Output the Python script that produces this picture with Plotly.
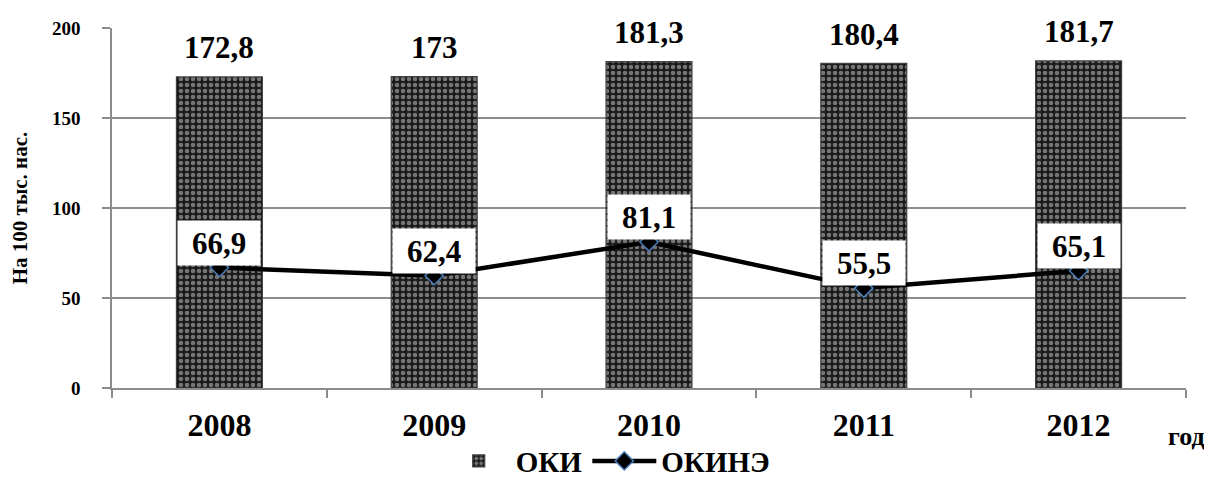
import plotly.graph_objects as go

years = ["2008", "2009", "2010", "2011", "2012"]
oki = [172.8, 173, 181.3, 180.4, 181.7]
okine = [66.9, 62.4, 81.1, 55.5, 65.1]
oki_labels = ["172,8", "173", "181,3", "180,4", "181,7"]
okine_labels = ["66,9", "62,4", "81,1", "55,5", "65,1"]
y_ticks = [0, 50, 100, 150, 200]

FONT = "Liberation Serif"
pos = list(range(len(years)))
bounds = [p - 0.5 for p in pos] + [pos[-1] + 0.5]

fig = go.Figure()
fig.add_trace(go.Bar(
    x=pos, y=oki, name="ОКИ", width=0.4,
    marker=dict(color="#1a1a1a",
                line=dict(color="#404040", width=1.2),
                pattern=dict(shape=".", fgcolor="#cfcfcf", bgcolor="#1a1a1a",
                             size=6, solidity=0.45, fillmode="overlay")),
))
fig.add_trace(go.Scatter(
    x=pos, y=okine, name="ОКИНЭ", mode="lines+markers",
    line=dict(color="black", width=4.5),
    marker=dict(symbol="diamond", size=14, color="black",
                line=dict(color="#4a7ebb", width=1.5)),
    cliponaxis=False,
))

for xv, yv, t in zip(pos, oki, oki_labels):
    fig.add_annotation(x=xv, y=yv, text=t, showarrow=False, yanchor="middle",
                       yshift=29,
                       font=dict(family=FONT, size=31, color="black", weight="bold"))

for xv, yv, t in zip(pos, okine, okine_labels):
    fig.add_annotation(x=xv, y=yv, text=t, showarrow=False, yanchor="bottom",
                       yshift=2, bgcolor="white", borderpad=0, width=82, height=44,
                       font=dict(family=FONT, size=31, color="black", weight="bold"))

fig.add_annotation(x=1.0196, xref="paper", y=-0.136, yref="paper", xanchor="right",
                   yanchor="middle", text="год", showarrow=False,
                   font=dict(family=FONT, size=26, color="black", weight="bold"))

fig.update_layout(
    width=1204, height=473,
    margin=dict(l=104, r=26, t=20, b=93, autoexpand=False),
    paper_bgcolor="white", plot_bgcolor="white",
    showlegend=True,
    legend=dict(orientation="h", x=0.307, xanchor="left", y=-0.203, yanchor="middle",
                font=dict(family=FONT, size=29, color="black", weight="bold"),
                itemwidth=64, tracegroupgap=0, bgcolor="rgba(0,0,0,0)"),
    font=dict(family=FONT, color="black"),
)
fig.update_xaxes(range=[bounds[0], bounds[-1]], tickvals=pos, ticktext=years,
                 showgrid=False, showline=True, linecolor="#8c8c8c", linewidth=1.5,
                 ticks="", zeroline=False,
                 minor=dict(tickvals=bounds, ticks="outside", ticklen=8,
                            tickcolor="#8c8c8c", tickwidth=1.5, showgrid=False),
                 tickfont=dict(family=FONT, size=32, color="black", weight="bold"),
                 ticklabelstandoff=8)
fig.update_yaxes(range=[0, 200], tickvals=y_ticks, showgrid=True, gridcolor="#8c8c8c",
                 gridwidth=1.5, showline=True, linecolor="#8c8c8c", linewidth=1.5,
                 ticks="outside", ticklen=8, tickcolor="#8c8c8c", tickwidth=1.5,
                 zeroline=False,
                 tickfont=dict(family=FONT, size=19, color="black", weight="bold"),
                 ticklabelstandoff=18,
                 title=dict(text="На 100 тыс. нас.", standoff=20,
                            font=dict(family=FONT, size=21, color="black", weight="bold")))

fig.write_html("out.html")
